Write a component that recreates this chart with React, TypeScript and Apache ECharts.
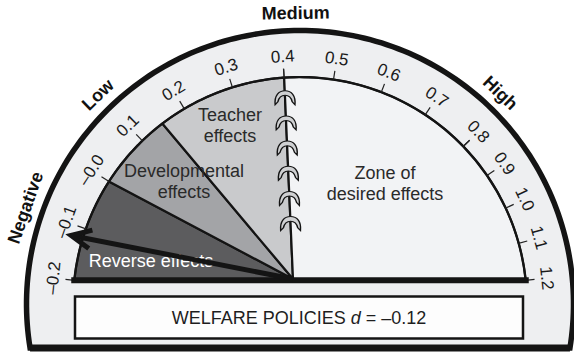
import React, { useEffect, useRef } from "react";
import * as echarts from "echarts";

// ---------- data ----------
const TICK_VALUES = [-0.2, -0.1, 0.0, 0.1, 0.2, 0.3, 0.4, 0.5, 0.6, 0.7, 0.8, 0.9, 1.0, 1.1, 1.2];
const TICK_LABELS = ["–0.2", "–0.1", "–0.0", "0.1", "0.2", "0.3", "0.4", "0.5", "0.6", "0.7", "0.8", "0.9", "1.0", "1.1", "1.2"];
const SCALE_BREAKS = [-0.2, 0.4, 0.8, 1.2];
const ZONE_LABELS = ["Reverse effects", "Developmental\neffects", "Teacher\neffects", "Zone of\ndesired effects"];
const ZONE_FROM = [-0.2, 0.0, 0.15, 0.4];
const ZONE_TO = [0.0, 0.15, 0.4, 1.2];
const LEVEL_NAMES = ["Negative", "Low", "Medium", "High"];
const LEVEL_VALUES = [-0.1, 0.1, 0.425, 0.78];
const POLICY = "WELFARE POLICIES";
const EFFECT_SIZE = -0.12;
const HOOK_FRACTIONS = [0.1, 0.225, 0.35, 0.475, 0.6, 0.725];

// ---------- layout / style ----------
const W = 574;
const H = 356;
const CX = 300;
const CY = 304;
const ANGLE_BREAKS = [174, 94, 44, 6];
const R_IN = 227;
const R_OUT = 273.5;
const SHELL_CUT = 44;
const R_NEEDLE = 239;
const R_LEVEL = 291;
const R_TICKLABEL = 248;
const APEX = [-7, 25];
const FONT = '"Liberation Sans", Arial, Helvetica, sans-serif';
const ZONE_COLORS = ["#5c5c5e", "#a3a4a7", "#c9cacc", "#f2f3f5"];
const ZONE_TEXT_COLORS = ["#ffffff", "#2a2a2a", "#2a2a2a", "#2a2a2a"];
const ZONE_TEXT_POS = [[151, 261], [184, 181], [230, 125], [385, 183]];
const INK = "#141414";

function angleOf(v: number): number {
  const n = SCALE_BREAKS.length - 1;
  for (let i = 0; i < n; i++) {
    const a = SCALE_BREAKS[i];
    const b = SCALE_BREAKS[i + 1];
    if (v <= b || i === n - 1) {
      const t = (v - a) / (b - a);
      return ANGLE_BREAKS[i] + t * (ANGLE_BREAKS[i + 1] - ANGLE_BREAKS[i]);
    }
  }
  return 0;
}

function polar(v: number, r: number): number[] {
  const a = (angleOf(v) * Math.PI) / 180;
  return [r * Math.cos(a), r * Math.sin(a)];
}

const HOOK_PATH =
  "path://M0,15 C-1,5 4,0 11,0 C18,0 23,5 22,15 L19,12 C18,8 15,5 11,5 C7,5 4,8 3,12 Z";

function tangentialText(api: any, v: number, r: number, text: string, style: any) {
  const pt = api.coord(polar(v, r));
  const rot = ((angleOf(v) - 90) * Math.PI) / 180;
  return {
    type: "text",
    x: pt[0],
    y: pt[1],
    rotation: rot,
    style: { text, x: 0, y: 0, align: "center", verticalAlign: "middle", fontFamily: FONT, ...style },
  };
}

function buildOption(): any {
  const step = TICK_VALUES[1] - TICK_VALUES[0];
  const gauges = SCALE_BREAKS.slice(0, -1).map((min, i) => {
    const max = SCALE_BREAKS[i + 1];
    return {
      type: "gauge",
      z: 3,
      silent: true,
      center: [CX, CY],
      radius: R_IN + 1,
      startAngle: ANGLE_BREAKS[i],
      endAngle: ANGLE_BREAKS[i + 1],
      min,
      max,
      splitNumber: Math.round((max - min) / step),
      axisLine: { show: true, roundCap: false, lineStyle: { width: 2.2, color: [[1, INK]] } },
      splitLine: { show: true, distance: -10, length: 9, lineStyle: { color: "#222", width: 1.2 } },
      axisTick: { show: false },
      axisLabel: { show: false },
      pointer: { show: false },
      anchor: { show: false },
      title: { show: false },
      detail: { show: false },
      progress: { show: false },
      data: [{ value: min }],
    };
  });

  const top04 = polar(ZONE_FROM[3], R_IN);
  const hookData = HOOK_FRACTIONS.map((f) => [
    top04[0] + (APEX[0] - top04[0]) * f,
    top04[1] + (APEX[1] - top04[1]) * f,
  ]);

  const fmt = (v: number) => (v < 0 ? "–" : "") + Math.abs(v).toFixed(2);

  return {
    animation: false,
    backgroundColor: "#ffffff",
    grid: { left: 0, right: 0, top: 0, bottom: 0, containLabel: false },
    xAxis: { type: "value", min: -CX, max: W - CX, show: false },
    yAxis: { type: "value", min: CY - H, max: CY, show: false },
    graphic: [
      ...ZONE_LABELS.map((t, i) => ({
        type: "text",
        z: 50,
        x: ZONE_TEXT_POS[i][0],
        y: ZONE_TEXT_POS[i][1],
        style: {
          text: t,
          fill: ZONE_TEXT_COLORS[i],
          fontSize: 18,
          fontFamily: FONT,
          lineHeight: 21,
          align: "center",
          verticalAlign: "middle",
        },
      })),
      {
        type: "rect",
        z: 50,
        shape: { x: 75, y: 296.5, width: 448, height: 42 },
        style: { fill: "#fdfdfd", stroke: INK, lineWidth: 2.5 },
      },
      {
        type: "text",
        z: 51,
        x: 299,
        y: 318,
        style: {
          text: `{a|${POLICY} }{i|d}{a| = ${fmt(EFFECT_SIZE)}}`,
          align: "center",
          verticalAlign: "middle",
          rich: {
            a: { fontSize: 18, fontFamily: FONT, fill: "#1e1e1e", color: "#1e1e1e" },
            i: { fontSize: 18, fontFamily: FONT, fontStyle: "italic", fill: "#1e1e1e", color: "#1e1e1e" },
          },
        },
      },
    ],
    series: [
      {
        type: "custom",
        name: "shell",
        z: 1,
        silent: true,
        data: [[0, 0]],
        renderItem: (_p: any, api: any) => {
          const a0 = Math.asin(-SHELL_CUT / R_OUT);
          const pts: number[][] = [];
          const N = 160;
          for (let k = 0; k <= N; k++) {
            const a = a0 + ((Math.PI - 2 * a0) * k) / N;
            pts.push(api.coord([R_OUT * Math.cos(a), R_OUT * Math.sin(a)]));
          }
          const l = pts[N];
          const r = pts[0];
          return {
            type: "group",
            children: [
              {
                type: "polygon",
                shape: { points: pts },
                style: { fill: "#eeeff1", stroke: INK, lineWidth: 5.5, lineJoin: "miter" },
              },
              {
                type: "line",
                shape: { x1: l[0], y1: l[1], x2: r[0], y2: r[1] },
                style: { stroke: INK, lineWidth: 7 },
              },
            ],
          };
        },
      },
      {
        type: "custom",
        name: "zones",
        z: 2,
        silent: true,
        data: ZONE_FROM.map((f, i) => [f, ZONE_TO[i]]),
        renderItem: (p: any, api: any) => {
          const i = p.dataIndex;
          const v1 = ZONE_FROM[i];
          const v2 = ZONE_TO[i];
          const pts: number[][] = [api.coord(APEX)];
          const N = 80;
          for (let k = 0; k <= N; k++) {
            pts.push(api.coord(polar(v1 + ((v2 - v1) * k) / N, R_IN)));
          }
          return {
            type: "polygon",
            shape: { points: pts },
            style: { fill: ZONE_COLORS[i], stroke: INK, lineWidth: 2.2, lineJoin: "round" },
          };
        },
      },
      ...gauges,
      {
        type: "custom",
        name: "tickLabels",
        z: 4,
        silent: true,
        data: TICK_VALUES.map((v) => [v, 0]),
        renderItem: (p: any, api: any) =>
          tangentialText(api, TICK_VALUES[p.dataIndex], R_TICKLABEL, TICK_LABELS[p.dataIndex], {
            fill: "#1a1a1a",
            fontSize: 17,
          }),
      },
      {
        type: "custom",
        name: "baseline",
        z: 4,
        silent: true,
        data: [[0, 0]],
        renderItem: (_p: any, api: any) => {
          const a = api.coord(polar(SCALE_BREAKS[0], R_IN));
          const b = api.coord(polar(SCALE_BREAKS[SCALE_BREAKS.length - 1], R_IN));
          return {
            type: "line",
            shape: { x1: a[0], y1: a[1], x2: b[0], y2: b[1] },
            style: { stroke: INK, lineWidth: 6, lineCap: "square" },
          };
        },
      },
      {
        type: "scatter",
        name: "hooks",
        z: 5,
        silent: true,
        symbol: HOOK_PATH,
        symbolSize: [20, 14],
        itemStyle: { color: "#cfd0d2", borderColor: INK, borderWidth: 1.2, opacity: 1 },
        data: hookData,
      },
      {
        type: "custom",
        name: "levels",
        z: 5,
        silent: true,
        data: LEVEL_VALUES.map((v) => [v, 0]),
        renderItem: (p: any, api: any) =>
          tangentialText(api, LEVEL_VALUES[p.dataIndex], R_LEVEL, LEVEL_NAMES[p.dataIndex], {
            fill: "#111",
            fontSize: 18,
            fontWeight: "bold",
          }),
      },
      {
        type: "custom",
        name: "needle",
        z: 60,
        silent: true,
        data: [[EFFECT_SIZE, 0]],
        renderItem: (_p: any, api: any) => {
          const base = api.coord(APEX);
          const tip = api.coord(polar(EFFECT_SIZE, R_NEEDLE));
          const dx = base[0] - tip[0];
          const dy = base[1] - tip[1];
          const len = Math.hypot(dx, dy);
          const ux = dx / len;
          const uy = dy / len;
          const rot = (a: number) => [ux * Math.cos(a) - uy * Math.sin(a), ux * Math.sin(a) + uy * Math.cos(a)];
          const b1 = rot(0.44);
          const b2 = rot(-0.44);
          const L = 22;
          return {
            type: "group",
            children: [
              {
                type: "line",
                shape: { x1: base[0], y1: base[1], x2: tip[0] + ux * 4, y2: tip[1] + uy * 4 },
                style: { stroke: INK, lineWidth: 5 },
              },
              {
                type: "polyline",
                shape: {
                  points: [
                    [tip[0] + b1[0] * L, tip[1] + b1[1] * L],
                    [tip[0], tip[1]],
                    [tip[0] + b2[0] * L, tip[1] + b2[1] * L],
                  ],
                },
                style: { stroke: INK, lineWidth: 5, fill: "none", lineJoin: "miter" },
              },
            ],
          };
        },
      },
    ],
  };
}

export default function App() {
  const ref = useRef<HTMLDivElement>(null);
  useEffect(() => {
    if (!ref.current) return;
    const chart = echarts.init(ref.current, undefined, { renderer: "svg" });
    chart.setOption(buildOption());
    return () => chart.dispose();
  }, []);
  return (
    <div
      ref={ref}
      style={{ position: "fixed", left: 0, top: 0, width: W, height: H, background: "#fff" }}
    />
  );
}
